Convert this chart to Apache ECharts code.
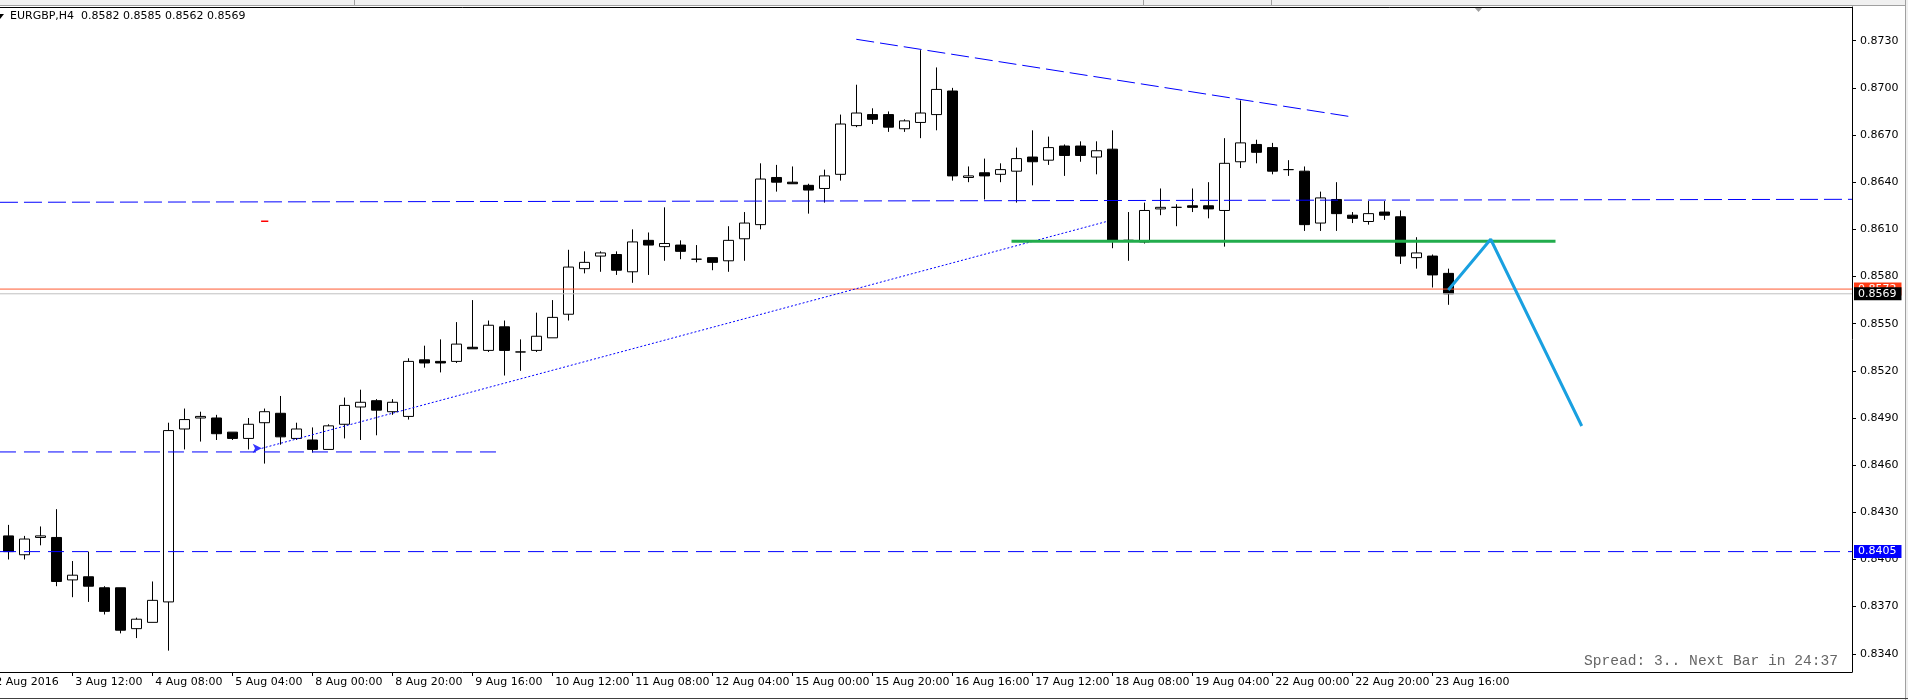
<!DOCTYPE html>
<html>
<head>
<meta charset="utf-8">
<title>EURGBP,H4</title>
<script src="https://cdn.jsdelivr.net/npm/echarts@6/dist/echarts.min.js"></script>
<style>
  html, body { margin: 0; padding: 0; background: #fff; }
  #chart { width: 1908px; height: 700px; }
</style>
</head>
<body>
<div id="chart"></div>
<script>
// time axis: bar index -> label (H4 bars, bar 0 = 2 Aug 20:00)
var tickBars = [-1, 4, 9, 14, 19, 24, 29, 34, 39, 44, 49, 54, 59, 64, 69, 74, 79, 84, 89];
var tickLabels = ['2 Aug 2016', '3 Aug 12:00', '4 Aug 08:00', '5 Aug 04:00', '8 Aug 00:00',
  '8 Aug 20:00', '9 Aug 16:00', '10 Aug 12:00', '11 Aug 08:00', '12 Aug 04:00',
  '15 Aug 00:00', '15 Aug 20:00', '16 Aug 16:00', '17 Aug 12:00', '18 Aug 08:00',
  '19 Aug 04:00', '22 Aug 00:00', '22 Aug 20:00', '23 Aug 16:00'];
var priceTicks = [0.8340, 0.8370, 0.8400, 0.8430, 0.8460, 0.8490, 0.8520, 0.8550,
  0.8580, 0.8610, 0.8640, 0.8670, 0.8700, 0.8730];

var opens = [0.8415, 0.8403, 0.8414, 0.8414, 0.8387, 0.8389, 0.8382, 0.8382, 0.8356, 0.8360,
  0.8373, 0.8483, 0.8490, 0.8490, 0.8481, 0.8477, 0.8487, 0.8493, 0.8477, 0.8476,
  0.8470, 0.8486, 0.8497, 0.8501, 0.8494, 0.8491, 0.8527, 0.8526, 0.8526, 0.8535,
  0.8533, 0.8548, 0.8532, 0.8533, 0.8541, 0.8556, 0.8585, 0.8593, 0.8594, 0.8583,
  0.8603, 0.8599, 0.8600, 0.8591, 0.8592, 0.8590, 0.8604, 0.8613, 0.8643, 0.8640,
  0.8638, 0.8636, 0.8645, 0.8676, 0.8683, 0.8683, 0.8674, 0.8678, 0.8683, 0.8698,
  0.8643, 0.8646, 0.8645, 0.8647, 0.8656, 0.8654, 0.8663, 0.8663, 0.8656, 0.8661,
  0.8603, 0.8602, 0.8623, 0.8624, 0.8625, 0.8625, 0.8622, 0.8653, 0.8664, 0.8662,
  0.8648, 0.8647, 0.8614, 0.8629, 0.8619, 0.8615, 0.8621, 0.8618, 0.8592, 0.8593,
  0.8582];
var highs = [0.8422, 0.8415, 0.8421, 0.8432, 0.8399, 0.8405, 0.8383, 0.8382, 0.8363, 0.8386,
  0.8487, 0.8496, 0.8494, 0.8492, 0.8481, 0.8490, 0.8496, 0.8504, 0.8487, 0.8484,
  0.8486, 0.8503, 0.8508, 0.8502, 0.8502, 0.8528, 0.8536, 0.8540, 0.8551, 0.8565,
  0.8552, 0.8552, 0.8540, 0.8557, 0.8565, 0.8597, 0.8596, 0.8596, 0.8596, 0.8610,
  0.8608, 0.8624, 0.8603, 0.8600, 0.8592, 0.8612, 0.8621, 0.8652, 0.8651, 0.8650,
  0.8639, 0.8648, 0.8683, 0.8702, 0.8687, 0.8685, 0.8680, 0.8724, 0.8713, 0.8700,
  0.8650, 0.8655, 0.8652, 0.8662, 0.8673, 0.8669, 0.8664, 0.8666, 0.8666, 0.8673,
  0.8621, 0.8627, 0.8636, 0.8626, 0.8636, 0.8640, 0.8668, 0.8692, 0.8667, 0.8665,
  0.8654, 0.8650, 0.8634, 0.8640, 0.8621, 0.8628, 0.8628, 0.8622, 0.8605, 0.8594,
  0.8585];
var lows = [0.8400, 0.8400, 0.8409, 0.8383, 0.8376, 0.8373, 0.8365, 0.8353, 0.8350, 0.8360,
  0.8342, 0.8470, 0.8475, 0.8476, 0.8476, 0.8470, 0.8461, 0.8473, 0.8476, 0.8468,
  0.8470, 0.8477, 0.8476, 0.8479, 0.8492, 0.8489, 0.8522, 0.8519, 0.8525, 0.8534,
  0.8532, 0.8517, 0.8520, 0.8532, 0.8541, 0.8552, 0.8582, 0.8583, 0.8581, 0.8576,
  0.8581, 0.8590, 0.8591, 0.8589, 0.8584, 0.8583, 0.8590, 0.8610, 0.8634, 0.8639,
  0.8620, 0.8627, 0.8641, 0.8675, 0.8677, 0.8672, 0.8672, 0.8668, 0.8673, 0.8641,
  0.8640, 0.8629, 0.8640, 0.8627, 0.8638, 0.8651, 0.8644, 0.8653, 0.8645, 0.8598,
  0.8590, 0.8601, 0.8619, 0.8612, 0.8621, 0.8617, 0.8599, 0.8649, 0.8652, 0.8645,
  0.8644, 0.8609, 0.8609, 0.8609, 0.8614, 0.8613, 0.8616, 0.8588, 0.8585, 0.8573,
  0.8562];
var closes = [0.8405, 0.8413, 0.8415, 0.8386, 0.8390, 0.8383, 0.8367, 0.8355, 0.8362, 0.8374,
  0.8482, 0.8489, 0.8491, 0.8480, 0.8477, 0.8486, 0.8494, 0.8478, 0.8483, 0.8470,
  0.8485, 0.8498, 0.8500, 0.8495, 0.8500, 0.8526, 0.8525, 0.8525, 0.8537, 0.8534,
  0.8549, 0.8533, 0.8532, 0.8542, 0.8554, 0.8586, 0.8589, 0.8595, 0.8584, 0.8602,
  0.8600, 0.8601, 0.8596, 0.8591, 0.8589, 0.8603, 0.8614, 0.8642, 0.8640, 0.8639,
  0.8635, 0.8644, 0.8677, 0.8684, 0.8680, 0.8675, 0.8679, 0.8684, 0.8699, 0.8644,
  0.8644, 0.8644, 0.8648, 0.8655, 0.8653, 0.8662, 0.8657, 0.8657, 0.8660, 0.8603,
  0.8603, 0.8622, 0.8624, 0.8624, 0.8624, 0.8623, 0.8652, 0.8665, 0.8659, 0.8647,
  0.8648, 0.8613, 0.8630, 0.8620, 0.8617, 0.8620, 0.8619, 0.8593, 0.8595, 0.8581,
  0.8569];

var bid = 0.8569;
var ask = 0.8572;
var supportLevel = 0.8405;
// drawn objects, as [bar, price] points
var flatTrend = [[-0.52, 0.86272], [115.23, 0.86291]];
var oldLevel = [[-0.52, 0.84684], [30.9, 0.84684]];
var topTrend = [[53, 0.87309], [84, 0.86815]];
var risingTrend = [[15.84, 0.84707], [68.65, 0.86150]];
var greenLevel = [[62.7, 0.86024], [96.7, 0.86024]];
var projection = [[90, 0.85714], [92.65, 0.86037], [98.34, 0.84849]];
var redMark = [[15.8, 0.86151], [16.25, 0.86151]];

var FONT = 'DejaVu Sans';
var X_MIN = -0.51875;
var X_MAX = 115.23125;

var candles = opens.map(function (o, i) {
  return [i, o, closes[i], lows[i], highs[i]];
});

function drawing(points, color, width, type) {
  return {
    type: 'line',
    data: points,
    symbol: 'none',
    silent: true,
    lineStyle: { color: color, width: width, type: type }
  };
}

// full-width horizontal price line with a tag on the price scale
function priceLine(value, lineColor, tagColor, type) {
  return {
    type: 'line',
    data: [[X_MIN, value], [X_MAX, value]],
    symbol: 'none',
    silent: true,
    lineStyle: { color: lineColor, width: 1, type: type },
    endLabel: {
      show: true,
      distance: 2,
      formatter: value.toFixed(4),
      backgroundColor: tagColor,
      color: '#fff',
      fontFamily: FONT,
      fontSize: 11,
      lineHeight: 11,
      padding: [1, 5, 1, 4]
    }
  };
}

var myChart = echarts.init(document.getElementById('chart'));

var option = {
  animation: false,
  backgroundColor: '#fff',
  grid: { left: 0, right: 56, top: 7, bottom: 28 },
  xAxis: [{
    type: 'value',
    min: X_MIN,
    max: X_MAX,
    position: 'bottom',
    splitLine: { show: false },
    axisLine: { show: true, onZero: false, lineStyle: { color: '#000', width: 1 } },
    axisTick: { show: true, customValues: tickBars, length: 4, lineStyle: { color: '#000' } },
    axisLabel: {
      customValues: tickBars,
      align: 'left',
      margin: 5,
      padding: [0, 0, 0, 3],
      color: '#000',
      fontFamily: FONT,
      fontSize: 11,
      formatter: function (v) {
        var k = tickBars.indexOf(Math.round(v));
        return k >= 0 ? tickLabels[k] : '';
      }
    }
  }, {
    type: 'value',
    min: X_MIN,
    max: X_MAX,
    position: 'top',
    splitLine: { show: false },
    axisLine: { show: true, onZero: false, lineStyle: { color: '#000', width: 1 } },
    axisTick: { show: false },
    axisLabel: { show: false }
  }],
  yAxis: {
    type: 'value',
    position: 'right',
    min: 0.832842,
    max: 0.875144,
    splitLine: { show: false },
    axisLine: { show: true, onZero: false, lineStyle: { color: '#000', width: 1 } },
    axisTick: { show: true, customValues: priceTicks, length: 4, lineStyle: { color: '#000' } },
    axisLabel: {
      customValues: priceTicks,
      margin: 8,
      color: '#000',
      fontFamily: FONT,
      fontSize: 11,
      formatter: function (v) { return v.toFixed(4); }
    }
  },
  series: [
    priceLine(supportLevel, '#0000ff', '#0000ff', [16, 8]),
    priceLine(ask, '#ff5a32', '#ff3c14', 'solid'),
    priceLine(bid, '#c0c0c0', '#000', 'solid'),
    {
      name: 'EURGBP,H4',
      type: 'candlestick',
      data: candles,
      dimensions: ['bar', 'open', 'close', 'lowest', 'highest'],
      encode: { x: 0, y: [1, 2, 3, 4] },
      barWidth: 10,
      silent: true,
      itemStyle: {
        color: '#fff',
        color0: '#000',
        borderColor: '#000',
        borderColor0: '#000',
        borderColorDoji: '#000',
        borderWidth: 1
      }
    },
    drawing(flatTrend, '#0000ff', 1, [18, 6]),
    drawing(oldLevel, '#0000ff', 1, [16, 8]),
    drawing(topTrend, '#0000ff', 1, [18, 6]),
    drawing(risingTrend, '#0000ff', 1, [2, 2]),
    drawing(greenLevel, '#22ac4c', 3, 'solid'),
    drawing(projection, '#19a0e0', 3, 'solid'),
    drawing(redMark, '#ff0000', 1.5, 'solid'),
    {
      type: 'scatter',
      silent: true,
      data: [risingTrend[0]],
      symbol: 'arrow',
      symbolRotate: -90,
      symbolSize: [7, 9],
      itemStyle: { color: '#0000ff' }
    }
  ],
  graphic: [
    { type: 'rect', shape: { x: 0, y: 0, width: 1908, height: 5 }, style: { fill: '#f0f0f0' }, silent: true },
    { type: 'line', shape: { x1: 0, y1: 5.5, x2: 1908, y2: 5.5 }, style: { stroke: '#a0a0a0', lineWidth: 1 }, silent: true },
    { type: 'line', shape: { x1: 354.5, y1: 0, x2: 354.5, y2: 5 }, style: { stroke: '#a0a0a0' }, silent: true },
    { type: 'line', shape: { x1: 1143.5, y1: 0, x2: 1143.5, y2: 5 }, style: { stroke: '#a0a0a0' }, silent: true },
    { type: 'line', shape: { x1: 1271.5, y1: 0, x2: 1271.5, y2: 5 }, style: { stroke: '#a0a0a0' }, silent: true },
    { type: 'polygon', shape: { points: [[1474, 7], [1483, 7], [1478.5, 12]] }, style: { fill: '#a0a0a0' }, silent: true },
    { type: 'line', shape: { x1: 1905.5, y1: 0, x2: 1905.5, y2: 700 }, style: { stroke: '#a0a0a0' }, silent: true },
    { type: 'rect', shape: { x: 1906, y: 0, width: 2, height: 700 }, style: { fill: '#f0f0f0' }, silent: true },
    { type: 'line', shape: { x1: 0, y1: 698.5, x2: 1908, y2: 698.5 }, style: { stroke: '#404040' }, silent: true },
    { type: 'polygon', shape: { points: [[0, 14], [4, 14], [0, 19]] }, style: { fill: '#000' }, silent: true },
    {
      // first time label sits left of the visible range, so the axis drops it
      type: 'text', silent: true,
      style: { text: tickLabels[0], x: -4.7, y: 677, verticalAlign: 'top', fill: '#000', font: '11px "DejaVu Sans"' }
    },
    {
      type: 'text', left: 10, top: 11, silent: true,
      style: { text: 'EURGBP,H4  0.8582 0.8585 0.8562 0.8569', fill: '#000', font: '11px "DejaVu Sans"' }
    },
    {
      type: 'text', right: 70, top: 654, silent: true,
      style: { text: 'Spread: 3.. Next Bar in 24:37', fill: '#666', font: '14.6px "Liberation Mono"' }
    }
  ]
};

myChart.setOption(option);
</script>
</body>
</html>
